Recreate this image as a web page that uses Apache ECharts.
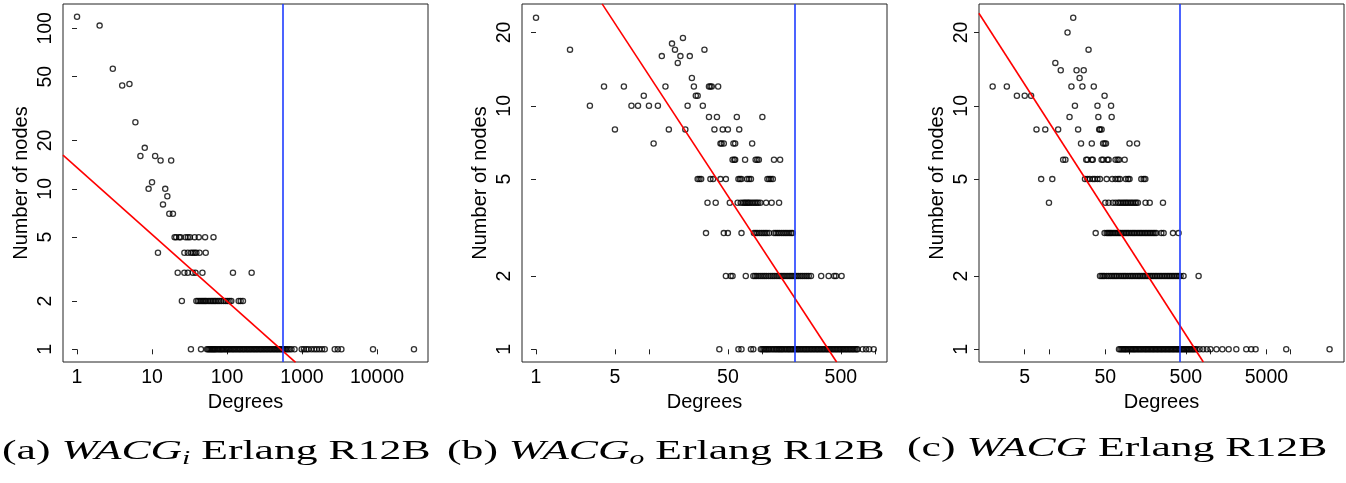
<!DOCTYPE html>
<html><head><meta charset="utf-8">
<script src="https://cdn.jsdelivr.net/npm/echarts@6/dist/echarts.min.js"></script>
<style>html,body{margin:0;padding:0;background:#fff}#c{width:1346px;height:483px}</style>
</head><body><div id="c"></div>
<script>
// ---------- Panel (a) WACG_i : [degree, nodes] for counts > 5 ----------
const aUpper = [[1,118],[2,104],[3,56],[4,44],[5,45],[6,26],[7,16],[8,18],[9,10],[10,11],[11,16],[13,15],[14,8],[15,10],[16,9],[17,7],[18,15],[19,7]];
const aRow5 = [20,21,23,24,28,30,32,37,42,51,66];
const aRow4 = [12,27,30,33,35,37,39,43,52];
const aRow3 = [22,27,30,35,38,47,120,213];
const aRow2 = [25,39,41,43,45,47,49,51,53,56,59,62,65,68,71,75,79,84,90,96,102,108,114,143,152,163];
const aRow1 = [33,45,54,56,58,60,62,64,66,68,70,73,76,79,82,85,88,92,96,100,104,108,113,118,123,128,134,140,146,152,159,166,173,181,189,197,206,215,225,235,245,256,268,280,292,305,319,333,348,364,380,397,415,434,453,473,494,516,539,563,588,614,645,680,723,795,990,1060,1140,1217,1333,1450,1570,1700,1850,2010,2730,3000,3350,8850,31100];
const aFit = [[0.65,16.2],[820,0.83]];
const aCut = 553;

// ---------- Panel (b) WACG_o ----------
const bUpper = [[1,23],[2,17],[3,10],[4,12],[5,8],[6,12],[7,10],[8,10],[9,11],[10,10],[12,10],[13,16],[14,12],[15,8],[16,18],[17,17],[18,15],[19,16],[20,19],[21,8],[22,10],[23,16],[24,13],[25,12],[26,11],[27,11],[30,10],[31,17],[34,9],[34,12],[35,12],[36,12],[38,8],[40,9],[41,12],[45,8],[50,8],[60,9],[63,8],[101,9]];
const bRow7 = [11,43,44,46,56,58,82];
const bRow6 = [55,57,58,71,88,91,94,128,145];
const bRow5 = [27,28,29,35,37,43,48,62,64,66,74,77,80,112,116,120,125];
const bRow4 = [33,39,52,61,65,68,70,72,74,76,78,81,84,87,90,93,97,109,122,142];
const bRow3 = [32,46,50,66,85,88,91,95,99,103,107,111,116,128,133,138,143,149,155,161,167,174,181,187];
const bRow2 = [48,53,55,72,84,87,90,94,98,102,106,110,115,120,125,130,136,142,148,154,160,167,174,181,188,196,204,212,221,230,240,250,260,272,335,390,437,453,508];
const bRow1 = [42,62,66,80,84,98,101,104,107,110,113,116,120,124,128,132,136,140,144,148,152,157,162,167,172,177,182,188,194,200,206,212,218,225,232,239,246,253,261,269,277,285,294,303,312,321,331,341,351,362,373,384,395,407,419,432,445,458,472,486,500,515,530,546,562,579,596,614,632,651,670,690,705,780,836,891,978];
const bFit = [[3.85,26.2],[459,0.887]];
const bCut = 196;

// ---------- Panel (c) WACG ----------
const cUpper = [[2,12],[3,12],[4,11],[5,11],[6,11],[7,8],[9,8],[12,15],[13,8],[14,14],[17,20],[18,9],[19,12],[20,23],[21,10],[22,14],[23,8],[24,13],[26,12],[27,14],[31,17],[36,12],[40,10],[41,9],[42,8],[43,8],[45,8],[49,11],[59,10],[60,9]];
const cRow7 = [25,34,47,49,51,100,124];
const cRow6 = [15,16,29,30,34,35,45,47,53,55,67,71,74,87];
const cRow5 = [8,11,28,30,32,35,37,40,43,52,61,67,72,76,90,96,100,140,150,157];
const cRow4 = [10,50,55,62,67,72,75,79,83,87,91,95,100,105,110,116,121,127,158,178,260];
const cRow3 = [38,49,52,54,56,58,60,63,66,69,72,75,78,82,86,90,94,98,103,108,113,118,124,130,136,142,149,156,163,171,179,187,196,205,215,248,265,346,406];
const cRow2 = [43,45,47,49,52,55,58,61,64,67,70,74,78,82,86,90,95,100,105,110,116,122,128,134,141,148,155,163,171,180,189,198,208,218,229,240,252,265,278,292,306,321,337,354,372,390,410,430,468,720];
const cRow1 = [74,77,80,83,86,89,92,96,100,104,108,112,116,120,125,130,135,140,146,152,158,164,170,177,184,191,198,206,214,222,231,240,249,259,269,280,291,302,314,326,339,352,366,380,395,410,426,443,460,478,497,516,536,557,579,602,626,650,684,741,820,910,1010,1200,1420,1700,2115,2810,3240,3670,8810,30400];
const cFit = [[1.35,24.0],[824,0.887]];
const cCut = 415;

// ---------- tick labels ----------
const aXTicks = [1,10,100,1000,10000];
const aXLabels = [1,10,100,1000,10000];
const bXTicks = [1,5,10,50,100,500,1000];
const bXLabels = [1,5,50,500];
const cXTicks = [5,10,50,100,500,1000,5000,10000];
const cXLabels = [5,50,500,5000];
const aYLabels = [1,2,5,10,20,50,100];
const bcYLabels = [1,2,5,10,20];

// axis extents (real units)
const aXRange = [0.650, 47860], aYRange = [0.8337, 141.8];
const bXRange = [0.7516, 1282], bYRange = [0.887, 26.18];
const cXRange = [1.354, 45920], cYRange = [0.887, 26.18];

const captions = [
  '{n|(a) }{i|WACG}{s|i}{n| Erlang R12B}',
  '{n|(b) }{i|WACG}{s|o}{n| Erlang R12B}',
  '{n|(c) }{i|WACG}{n| Erlang R12B}'
];

const L = Math.log10;
function build(upper, rows) {
  const pts = upper.slice();
  rows.forEach((r, i) => { const n = i + 1; r.forEach(d => pts.push([d, n])); });
  return pts.map(p => [L(p[0]), L(p[1])]);
}
const panels = [
  {pts: build(aUpper,[aRow1,aRow2,aRow3,aRow4,aRow5]), fit:aFit, cut:aCut, xr:aXRange, yr:aYRange, xt:aXTicks, xl:aXLabels, yl:aYLabels, left:63},
  {pts: build(bUpper,[bRow1,bRow2,bRow3,bRow4,bRow5,bRow6,bRow7]), fit:bFit, cut:bCut, xr:bXRange, yr:bYRange, xt:bXTicks, xl:bXLabels, yl:bcYLabels, left:522},
  {pts: build(cUpper,[cRow1,cRow2,cRow3,cRow4,cRow5,cRow6,cRow7]), fit:cFit, cut:cCut, xr:cXRange, yr:cYRange, xt:cXTicks, xl:cXLabels, yl:bcYLabels, left:979}
];

const FONT = 'Liberation Sans';
const fmt = v => String(Math.round(Math.pow(10, v)));
const grid = [], xAxis = [], yAxis = [], series = [];
panels.forEach((p, i) => {
  grid.push({left: p.left, top: 4, width: 365, height: 358, show: true, borderColor: '#222', borderWidth: 1, backgroundColor: 'transparent'});
  xAxis.push({
    type: 'value', gridIndex: i, min: L(p.xr[0]), max: L(p.xr[1]),
    name: 'Degrees', nameLocation: 'middle', nameGap: 29,
    nameTextStyle: {fontFamily: FONT, fontSize: 20, color: '#000'},
    axisLine: {show: false}, splitLine: {show: false},
    axisTick: {show: true, length: 5, customValues: p.xt.map(L), lineStyle: {color: '#222', width: 1}},
    axisLabel: {customValues: p.xl.map(L), formatter: fmt, fontFamily: FONT, fontSize: 19.5, color: '#000', margin: 6, hideOverlap: false}
  });
  yAxis.push({
    type: 'value', gridIndex: i, min: L(p.yr[0]), max: L(p.yr[1]),
    name: 'Number of nodes', nameLocation: 'middle', nameGap: 32,
    nameTextStyle: {fontFamily: FONT, fontSize: 20, color: '#000'},
    axisLine: {show: false}, splitLine: {show: false},
    axisTick: {show: true, length: 5, customValues: p.yl.map(L), lineStyle: {color: '#222', width: 1}},
    axisLabel: {customValues: p.yl.map(L), formatter: fmt, rotate: 90, fontFamily: FONT, fontSize: 19.5, color: '#000', margin: 7, hideOverlap: false}
  });
  series.push({
    type: 'scatter', xAxisIndex: i, yAxisIndex: i, data: p.pts, symbol: 'circle', symbolSize: 5.2,
    itemStyle: {color: 'rgba(0,0,0,0)', borderColor: '#000', borderWidth: 1.3}, silent: true, animation: false,
    markLine: {silent: true, symbol: 'none', label: {show: false}, animation: false,
      lineStyle: {color: '#1f3dff', width: 1.6, type: 'solid'}, data: [{xAxis: L(p.cut)}]}
  });
  series.push({
    type: 'line', xAxisIndex: i, yAxisIndex: i, data: p.fit.map(q => [L(q[0]), L(q[1])]),
    showSymbol: false, clip: true, silent: true, animation: false,
    lineStyle: {color: '#ff0000', width: 1.6}
  });
});

const graphic = captions.map((t, i) => ({
  type: 'text', x: [2, 447, 907][i], y: 435, scaleX: 1.56, silent: true,
  style: {
    text: t, fill: '#000',
    rich: {
      n: {fontFamily: 'Liberation Serif', fontSize: 28, color: '#000'},
      i: {fontFamily: 'Liberation Serif', fontStyle: 'italic', fontSize: 28, color: '#000'},
      s: {fontFamily: 'Liberation Serif', fontStyle: 'italic', fontSize: 19, color: '#000', padding: [14, 0, 0, 0]}
    }
  }
}));

const chart = echarts.init(document.getElementById('c'), null, {renderer: 'canvas'});
chart.setOption({animation: false, grid, xAxis, yAxis, series, graphic});
</script></body></html>
